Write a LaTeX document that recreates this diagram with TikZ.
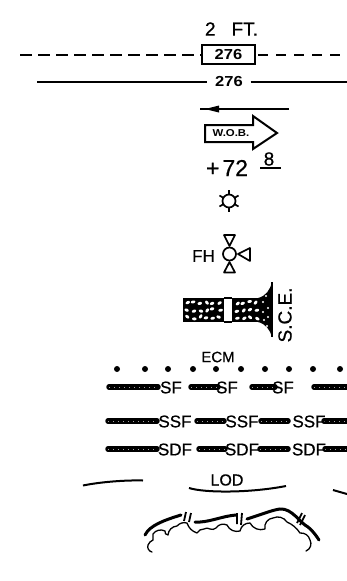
\documentclass[tikz,border=0pt]{standalone}
\usepackage{fontspec}
\setmainfont{Liberation Sans}
\newfontfamily\heavyf[FakeBold=0.6]{Liberation Sans}
\newfontfamily\numf[FakeStretch=1.14]{Liberation Sans}
\usetikzlibrary{arrows.meta}
\tikzset{
  lbl/.style={inner sep=0pt,font=\fontsize{#1}{#1}\selectfont\heavyf},
  lbl/.default=15,
  blbl/.style={inner sep=0pt,font=\fontsize{#1}{#1}\selectfont\numf\bfseries},
  fence/.style={line width=5.5pt,line cap=round},
  fencedots/.style={gray!70,line width=.3pt,dash pattern=on .6pt off 4.4pt},
  sym/.style={line width=1.7pt,line join=round},
  thick line/.style={line width=2pt},
  tree/.style={line width=3pt,line cap=round},
  ticks/.style={line width=1.8pt},
  ecmdot/.style={circle,fill=black,inner sep=0pt,minimum size=6pt}
}
\begin{document}
\begin{tikzpicture}[x=1pt,y=-1pt]
\useasboundingbox (0,0) rectangle (347,581);
\node[lbl=19] (ft) at (231.5,29) {2\hspace{16pt}FT.};
% contour
\node[draw,thick line,minimum width=53pt,minimum height=19pt,inner sep=0pt,blbl=14.5] (box) at (228.5,54.5) {276};
\coordinate (dl) at (20,54.5);\coordinate (dr) at (347,54.5);
\draw[thick line,dash pattern=on 12pt off 6pt] (dl) -- (box.west);
\draw[thick line,dash pattern=on 10pt off 8pt,dash phase=-2pt] (box.east) -- (dr);
\node[blbl=14.5,minimum width=43pt] (c2) at (229,81.5) {276};
\coordinate (sl) at (37,81.5);\coordinate (sr) at (347,81.5);
\draw[thick line] (sl) -- (c2.west);
\draw[thick line] (c2.east) -- (sr);
% flow arrow
\coordinate (fa) at (289,109);\coordinate (fb) at (200,109);
\draw[thick line] (fa) -- (fb);
\fill (219,105.5) -- (205,109) -- (219,112.5) -- cycle;
% WOB
\draw[thick line,line join=miter] (205,125) -- (253,125) -- (253,116) -- (277,133) -- (253,149) -- (253,142) -- (205,142) -- cycle;
\node[blbl=10] (wob) at (231,133.5) {W.O.B.};
\node[lbl=23] (p72) at (227,168) {+\hspace{3pt}72};
\node[lbl=19] (eight) at (269,159) {8};
\draw[thick line] (260,168) -- (281,168);
% sun
\draw[sym] (229,201) circle (6.5);
\foreach \a in {30,90,150,210,270,330}
  \draw[sym] (229,201) ++(\a:6.5) -- ++(\a:4.5);
% valve
\node[lbl=17] (fh) at (203.5,256) {FH};
\draw[sym] (229.5,254) circle (6.5);
\draw[sym] (229.5,246) -- (224,235) -- (235,235) -- cycle;
\draw[sym] (229.5,262) -- (224,272.5) -- (235,272.5) -- cycle;
\draw[sym] (238,254) -- (250,248) -- (250,261) -- cycle;
% SCE
\fill (183,298) rectangle (224,322);
\fill (232,298) rectangle (261,322);
\fill (258,298) .. controls (266,296) and (270,290) .. (272,282) -- (272,337) .. controls (270,330) and (266,324) .. (258,322) -- cycle;
\draw[thick line] (272,282) -- (272,337);
\draw[thick line] (224,298) -- (232,298) (224,322) -- (232,322);
\pgfmathsetseed{11}
\foreach \x in {187,193.5,200,206.5,213,219.5,237,243.5,250,256.5}
  \foreach \y in {302.5,310,317.5}
    {\pgfmathsetmacro{\px}{\x+rand*1.2}
     \pgfmathsetmacro{\py}{\y+rand*1.5}
     \pgfmathsetmacro{\rot}{rand*60}
     \fill[white,rotate around={\rot:(\px,\py)}] (\px,\py) ellipse (2.3 and 1.5);}
\foreach \p in {(263,302),(266,296),(268,308),(263,312),(268,317),(264,320),(267,326)}
  \fill[white] \p circle (1.1);
\node[lbl=19,rotate=90] (sce) at (285,315) {S.C.E.};
% ECM
\node[lbl=15] (ecm) at (218,357) {ECM};
\foreach \x [count=\i] in {117,145,168,193,216,241,265,289,313,340}
  \node[ecmdot] (d\i) at (\x,369) {};
% SF
\foreach \a/\b in {109/158,191/218,252/275,314/347}
  {\draw[fence] (\a,387) -- (\b,387);\draw[fencedots] (\a,387) -- (\b,387);}
\node[lbl=17] (sf1) at (171,387.5) {SF};
\node[lbl=17] (sf2) at (227,387.5) {SF};
\node[lbl=17] (sf3) at (283,387.5) {SF};
% SSF
\foreach \a/\b in {108/157,197/224,261/288,324/347}
  {\draw[fence] (\a,421) -- (\b,421);\draw[fencedots] (\a,421) -- (\b,421);}
\node[lbl=17] (ssf1) at (175,421.5) {SSF};
\node[lbl=17] (ssf2) at (242,421.5) {SSF};
\node[lbl=17] (ssf3) at (309,421.5) {SSF};
% SDF
\foreach \a/\b in {108/157,199/225,260/288,325/347}
  {\draw[fence] (\a,449) -- (\b,449);\draw[fencedots] (\a,449) -- (\b,449);}
\node[lbl=17] (sdf1) at (175,449.5) {SDF};
\node[lbl=17] (sdf2) at (242,449.5) {SDF};
\node[lbl=17] (sdf3) at (309,449.5) {SDF};
% LOD
\node[lbl=16] (lod) at (227,480) {LOD};
\draw[thick line] (83,485.5) .. controls (100,482) and (125,480) .. (143,480.5);
\draw[thick line] (189,488) .. controls (205,493) and (250,493) .. (286,486);
\draw[thick line] (333,490) -- (347,494);
% tree line
\draw[tree] (145,535) .. controls (150,525) and (165,520) .. (181,515);
\draw[tree] (195,522) .. controls (208,523) and (222,516) .. (236,515);
\draw[tree] (247,519) .. controls (260,515) and (272,510) .. (280,509)
  .. controls (292,508) and (300,523) .. (308,527) .. controls (314,532) and (317,537) .. (319,540);
\draw[ticks] (186,512) -- (184,521) (191,513) -- (189,522);
\draw[ticks] (237,513) -- (237,524) (242,513) -- (241,525);
\draw[ticks] (297,523) -- (302,513) (300,525) -- (305,515);
\draw[line width=1.3pt,line cap=round,line join=round]
  (152,552) to[bend left=50] (148,545) to[bend left=20] (153,540)
  to[bend right=10] (153,534) to[bend left=40] (165,531) to[bend right=60] (168,535)
  to[bend left=40] (177,526) to[bend left=30] (187,523) to[bend right=25] (197,533)
  to[bend left=30] (204,529) to[bend left=30] (210,529) to[bend right=30] (216,528)
  to[bend left=40] (227,525) to[bend right=40] (240,531) to[bend left=40] (250,523)
  to[bend right=40] (265,529) to[bend left=50] (273,518) to[bend left=40] (287,522)
  to[bend left=15] (300,533) to[bend left=40] (310,540) to[bend left=50] (306,551);
\end{tikzpicture}
\end{document}
